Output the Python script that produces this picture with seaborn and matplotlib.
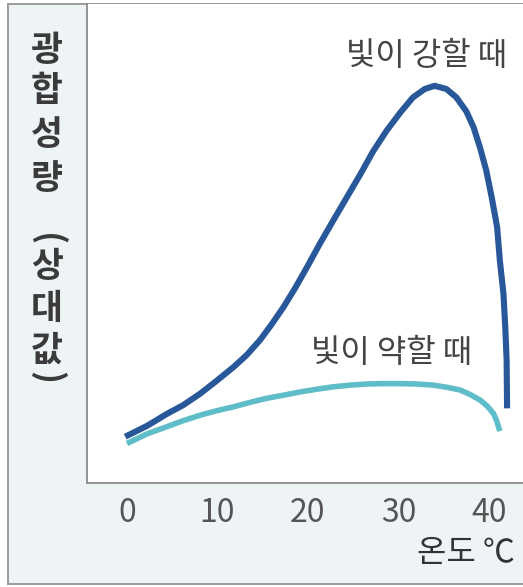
import numpy as np
import pandas as pd
import matplotlib
matplotlib.use("Agg")
import matplotlib.pyplot as plt
from matplotlib.patches import Rectangle
import seaborn as sns

# ─────────────────────────────────────────────
# DATA
# ─────────────────────────────────────────────
strong_temp = [-0.2, 2.2, 4.4, 6.2, 8.1, 9.9, 11.8, 13.2, 14.7, 16.0,
               17.3, 18.6, 19.9, 21.3, 22.8, 24.3, 25.8, 27.2, 28.7, 30.2,
               31.6, 32.9, 34.0, 35.3, 36.4, 37.5, 38.3, 39.0, 39.7, 40.3,
               40.9, 41.2, 41.6, 41.8, 41.95, 42.0]
strong_rate = [11.6, 14.3, 17.3, 19.5, 22.4, 25.6, 29.1, 32.0, 35.8, 39.8,
               44.1, 48.9, 54.1, 59.9, 65.8, 71.6, 77.4, 83.1, 88.3, 92.8,
               96.6, 98.7, 99.5, 98.7, 96.6, 93.1, 89.1, 84.1, 78.3, 71.6,
               64.1, 55.8, 47.4, 39.1, 30.8, 18.7]

weak_temp = [0.0, 2.2, 4.4, 6.2, 8.1, 9.9, 11.8, 13.6, 15.4, 17.3,
             19.1, 21.0, 22.8, 24.6, 26.5, 28.3, 30.2, 32.0, 33.9, 35.3,
             36.8, 37.9, 39.0, 39.8, 40.5, 40.85, 41.2]
weak_rate = [9.9, 12.3, 14.1, 15.6, 17.0, 18.1, 19.1, 20.2, 21.2, 22.0,
             22.8, 23.5, 24.1, 24.5, 24.8, 24.9, 24.9, 24.8, 24.5, 24.0,
             23.3, 22.2, 20.8, 19.3, 17.4, 15.6, 13.0]

x_ticks = [0, 10, 20, 30, 40]
strong_label = "빛이 강할 때"
weak_label = "빛이 약할 때"
x_label = "온도 ℃"
# vertical y title, one glyph per row; brackets are turned on their side
y_label_chars = ["광", "합", "성", "량", "(", "상", "대", "값", ")"]

COLORS = {strong_label: "#28589a", weak_label: "#5fbdc9"}

df = pd.concat([
    pd.DataFrame({"temp": strong_temp, "rate": strong_rate, "light": strong_label}),
    pd.DataFrame({"temp": weak_temp, "rate": weak_rate, "light": weak_label}),
], ignore_index=True)

# ─────────────────────────────────────────────
# STYLE
# ─────────────────────────────────────────────
sns.set_theme(style="white")
plt.rcParams["font.family"] = ["Noto Sans CJK KR", "DejaVu Sans"]

W, H = 523, 587
fig = plt.figure(figsize=(W / 100, H / 100), dpi=100, facecolor="white")

# outer panel frame (light grey box)
fig.patches.append(Rectangle((8 / W, 3 / H), 1.0, (584 - 4) / H,
                             transform=fig.transFigure, facecolor="#eef3f6",
                             edgecolor="#9a9a9a", linewidth=1.4, zorder=-5))

ax = fig.add_axes([87 / W, (H - 483) / H, (W - 87) / W, (483 - 4) / H])
ax.set_facecolor("white")

for name, lw in [(weak_label, 4.0), (strong_label, 4.4)]:
    sub = df[df["light"] == name]
    sns.lineplot(data=sub, x="temp", y="rate", color=COLORS[name],
                 sort=False, estimator=None, linewidth=lw, ax=ax,
                 solid_capstyle="butt", solid_joinstyle="round")

ax.set_xlim(-4.42, 43.76)
ax.set_ylim(0, 120)
ax.set_xticks(x_ticks)
ax.set_xticklabels([str(t) for t in x_ticks])
ax.set_yticks([])
ax.set_xlabel("")
ax.set_ylabel("")
ax.tick_params(axis="x", length=0, pad=10, labelsize=23, labelcolor="#555555")

for side in ["top", "right"]:
    ax.spines[side].set_visible(False)
for side in ["left", "bottom"]:
    ax.spines[side].set_color("#8a8a8a")
    ax.spines[side].set_linewidth(1.3)

# curve labels
ax.text(33.1, 107, strong_label, ha="center", va="center",
        fontsize=23, color="#444444")
ax.text(29.2, 32.5, weak_label, ha="center", va="center",
        fontsize=23, color="#444444")

# axis titles
fig.text(515 / W, (H - 553) / H, x_label, ha="right", va="center",
         fontsize=23, color="#333333")

row_y = [50, 91, 134, 179, 240, 266, 309, 350, 378]   # pixel centres
for ch, yy in zip(y_label_chars, row_y):
    rot = -90 if ch in "()" else 0
    fig.text(47 / W, (H - yy) / H, ch, ha="center", va="center",
             rotation=rot, rotation_mode="anchor",
             fontsize=25, fontweight="bold", color="#3a3a3a")

fig.savefig("out.png", dpi=100, facecolor=fig.get_facecolor())
